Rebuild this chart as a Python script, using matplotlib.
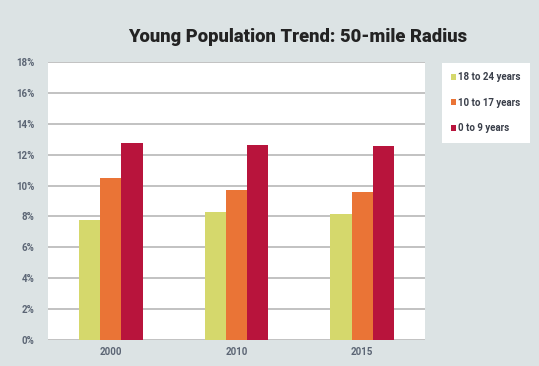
import matplotlib
matplotlib.use("Agg")
import matplotlib.pyplot as plt
from matplotlib.patches import Patch
import numpy as np

years = ["2000", "2010", "2015"]
series_names = ["18 to 24 years", "10 to 17 years", "0 to 9 years"]
age_18_24 = [7.8, 8.3, 8.15]
age_10_17 = [10.5, 9.7, 9.6]
age_0_9 = [12.75, 12.6, 12.55]
y_ticks = [0, 2, 4, 6, 8, 10, 12, 14, 16, 18]

colors = ["#d5d86c", "#ea7436", "#b8143c"]
bg = "#dce3e4"
font = ["Roboto", "DejaVu Sans"]

fig = plt.figure(figsize=(5.39, 3.66), dpi=100, facecolor=bg)
ax = fig.add_axes([48/539, 26/366, 377/539, 278/366])
ax.set_facecolor("white")

x = np.arange(len(years))
w = 0.168
for i, (vals, c) in enumerate(zip([age_18_24, age_10_17, age_0_9], colors)):
    ax.bar(x + (i - 1) * w, vals, width=w, color=c, zorder=3)

ax.set_xlim(-0.5, 2.5)
ax.set_ylim(0, 18)
ax.set_yticks(y_ticks)
ax.set_yticklabels([f"{t}%" for t in y_ticks])
ax.set_xticks(x)
ax.set_xticklabels(years)
ax.grid(axis="y", color="#b8b8b8", linewidth=1.2, zorder=0)
for s in ax.spines.values():
    s.set_visible(False)
ax.tick_params(axis="both", length=0, labelsize=7, labelcolor="#5b6574", pad=5)
for lbl in ax.get_yticklabels() + ax.get_xticklabels():
    lbl.set_fontweight("bold")
    lbl.set_family(font)
ax.tick_params(axis="y", pad=10)

fig.text(0.553, 0.899, "Young Population Trend: 50-mile Radius",
         ha="center", va="center", fontsize=13.2, fontweight="black",
         family=font, color="#232323")

handles = [Patch(facecolor=c, edgecolor="none") for c in colors]
leg = fig.legend(handles, series_names, loc="upper left",
                 bbox_to_anchor=(442/539, 1 - 63/366), frameon=True,
                 prop={"size": 7, "family": font, "weight": "bold"},
                 handlelength=0.45, handleheight=0.6, handletextpad=0.25,
                 labelspacing=1.6, borderpad=0.95, borderaxespad=0,
                 fancybox=False, framealpha=1)
leg.get_frame().set_facecolor("white")
leg.get_frame().set_edgecolor("white")
leg.get_frame().set_linewidth(0)
for t in leg.get_texts():
    t.set_color("#3a3f4a")

fig.savefig("out.png", dpi=100, facecolor=bg)
